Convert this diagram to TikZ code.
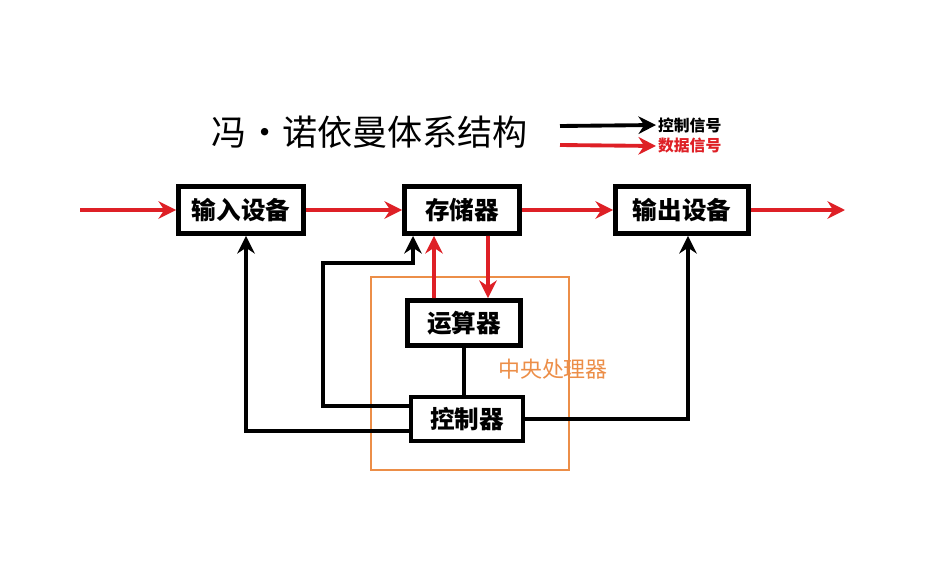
\documentclass[tikz,border=0pt]{standalone}
\usepackage{fontspec}
\newfontfamily\cjk{Noto Sans CJK SC}
\usepackage{tikz}
\usetikzlibrary{arrows.meta}
\definecolor{datared}{RGB}{222,32,38}
\definecolor{cpuorange}{RGB}{236,142,72}

\begin{document}
\begin{tikzpicture}[x=0.02cm, y=-0.02cm,
  unit/.style={draw, line width=2.8pt, font=\cjk\bfseries\fontsize{14}{16}\selectfont, inner sep=0pt, minimum height=0.94cm},
  data/.style={datared, line width=2.2pt, -{Stealth[length=10pt,width=10pt]}},
  ctrl/.style={black, line width=2.2pt, -{Stealth[length=10pt,width=10pt]}},
  legend/.style={font=\cjk\bfseries\fontsize{9}{10}\selectfont, inner sep=1pt, anchor=west}]
\useasboundingbox (0,0) rectangle (943,578);
\draw[cpuorange, line width=1.2pt] (371,277) rectangle (569,470);
\node[text=cpuorange, font=\cjk\fontsize{12.5}{14}\selectfont] (cpu) at (553,369) {中央处理器};
\node[font=\cjk\fontsize{20}{24}\selectfont] (title) at (370,132) {冯·诺依曼体系结构};
\node[legend] (lgctrl) at (656,125) {控制信号};
\node[legend, text=datared] (lgdata) at (656,146) {数据信号};
\coordinate (lg1) at (560,126);
\coordinate (lg2) at (560,145);
\draw[ctrl] (lg1) -- (lgctrl.west);
\draw[data] (lg2) -- (lgdata.west);
\node[unit, minimum width=2.5cm] (input) at (241,210) {输入设备};
\node[unit, minimum width=2.3cm] (mem) at (462,210) {存储器};
\node[unit, minimum width=2.66cm] (output) at (682,210) {输出设备};
\node[unit, minimum width=2.26cm, minimum height=0.9cm] (alu) at (464,323) {运算器};
\node[unit, minimum width=2.24cm, minimum height=0.88cm] (ctl) at (467,419) {控制器};
\coordinate (src) at (80,210);
\coordinate (dst) at (845,210);
\coordinate (bend) at (323,263);
\draw[data] (src) -- (input);
\draw[data] (input) -- (mem);
\draw[data] (mem) -- (output);
\draw[data] (output) -- (dst);
\draw[data] ([xshift=-0.6cm]alu.north) -- ([xshift=-0.56cm]mem.south);
\draw[data] ([xshift=0.52cm]mem.south) -- ([xshift=0.48cm]alu.north);
\draw[black, line width=2.2pt] (alu) -- (alu |- ctl.north);
\draw[ctrl] ([yshift=0.26cm]ctl.west) -| (bend) -| ([xshift=-0.98cm]mem.south);
\draw[ctrl] ([yshift=-0.24cm]ctl.west) -| ([xshift=0.1cm]input.south);
\draw[ctrl] (ctl.east) -| ([xshift=0.12cm]output.south);
\end{tikzpicture}
\end{document}
